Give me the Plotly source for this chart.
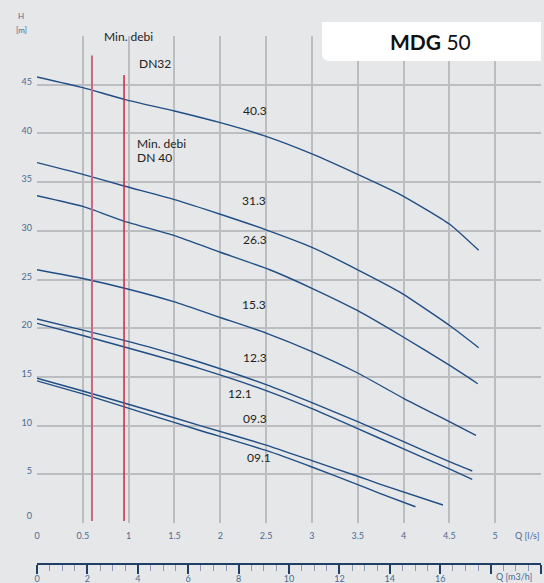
import plotly.graph_objects as go

# ---- data (Q in l/s, H in m) ----
q_403 = [0.0, 0.5, 0.95, 1.5, 2.0, 2.5, 3.0, 3.5, 3.96, 4.5, 4.82]
h_403 = [45.8, 44.7, 43.5, 42.3, 41.1, 39.7, 37.9, 35.8, 33.75, 30.7, 28.0]

q_313 = [0.0, 0.5, 0.95, 1.5, 2.0, 2.5, 3.0, 3.5, 3.96, 4.5, 4.82]
h_313 = [37.0, 35.8, 34.6, 33.2, 31.7, 30.1, 28.3, 26.0, 23.7, 20.3, 18.0]

q_263 = [0.0, 0.5, 0.95, 1.5, 2.0, 2.54, 3.0, 3.5, 3.96, 4.5, 4.81]
h_263 = [33.6, 32.5, 31.0, 29.5, 27.8, 26.0, 24.1, 21.8, 19.3, 16.2, 14.3]

q_153 = [0.0, 0.5, 1.0, 1.5, 2.0, 2.5, 3.0, 3.5, 4.0, 4.5, 4.79]
h_153 = [26.0, 25.1, 24.0, 22.7, 21.1, 19.5, 17.6, 15.4, 12.8, 10.4, 9.0]

q_123 = [0.0, 0.5, 0.95, 1.23, 1.78, 2.5, 3.0, 3.5, 4.0, 4.5, 4.75]
h_123 = [20.95, 19.8, 18.75, 18.05, 16.5, 14.2, 12.35, 10.4, 8.35, 6.3, 5.34]

q_121 = [0.0, 0.5, 1.23, 1.78, 2.5, 3.0, 3.5, 4.0, 4.5, 4.75]
h_121 = [20.5, 19.25, 17.35, 15.85, 13.6, 11.75, 9.7, 7.6, 5.55, 4.49]

q_093 = [0.0, 0.5, 1.23, 1.78, 2.5, 3.0, 3.5, 3.74, 4.43]
h_093 = [14.86, 13.55, 11.55, 10.0, 8.0, 6.4, 4.8, 4.0, 1.85]

q_091 = [0.0, 0.5, 1.23, 1.78, 2.5, 3.0, 3.5, 3.74, 4.13]
h_091 = [14.6, 13.25, 11.1, 9.5, 7.45, 5.75, 3.95, 3.05, 1.67]

curve_names = ["40.3", "31.3", "26.3", "15.3", "12.3", "12.1", "09.3", "09.1"]
curve_q = [q_403, q_313, q_263, q_153, q_123, q_121, q_093, q_091]
curve_h = [h_403, h_313, h_263, h_153, h_123, h_121, h_093, h_091]
# label positions (Q, H)
label_q = [2.38, 2.37, 2.38, 2.37, 2.38, 2.22, 2.38, 2.42]
label_h = [42.4, 33.1, 29.1, 22.4, 17.0, 13.3, 10.7, 6.7]

# minimum flow lines: (Q, top H)
minflow_q = [0.6, 0.95]
minflow_top = [48.0, 46.0]

# axis ticks
q_ls_ticks = [0.5, 1, 1.5, 2, 2.5, 3, 3.5, 4, 4.5, 5]
q_ls_text = ["0.5", "1", "1.5", "2", "2.5", "3", "3.5", "4", "4.5", "5"]
h_ticks = [5, 10, 15, 20, 25, 30, 35, 40, 45]
q_m3h_ticks = [0, 2, 4, 6, 8, 10, 12, 14, 16, 18, 20]
q_m3h_text = ["0", "2", "4", "6", "8", "10", "12", "14", "16", "", ""]

BG = "#e6e7e9"
GRID = "#bcbdc0"
CURVE = "#1f4e85"
TICKC = "#4a6a92"
NAVY = "#1f3f66"
FONT = "Lato"

W, H = 544, 583
ML, MR, MT, MB = 37, 3, 36, 20
PW = W - ML - MR
PH = H - MT - MB


def px(xp):
    return (xp - ML) / PW


def py(yp):
    return (H - MB - yp) / PH


fig = go.Figure()
for name, q, h in zip(curve_names, curve_q, curve_h):
    fig.add_trace(go.Scatter(x=q, y=h, mode="lines", name=name, xaxis="x", yaxis="y",
                             line=dict(color=CURVE, width=1.4, shape="spline", smoothing=0.5),
                             showlegend=False, hoverinfo="skip"))

# helper traces to activate the extra axes (no visible marks)
fig.add_trace(go.Scatter(x=[0, 20], y=[None, None], xaxis="x2", yaxis="y3",
                         showlegend=False, hoverinfo="skip", mode="lines"))
fig.add_trace(go.Scatter(x=[0, 5.5], y=[None, None], xaxis="x3", yaxis="y",
                         showlegend=False, hoverinfo="skip", mode="lines"))
fig.add_trace(go.Scatter(x=[None, None], y=[0, 50], xaxis="x", yaxis="y2",
                         showlegend=False, hoverinfo="skip", mode="lines"))

for name, lq, lh in zip(curve_names, label_q, label_h):
    fig.add_annotation(x=lq, y=lh, xref="x", yref="y", text=name, showarrow=False,
                       xanchor="center", yanchor="middle",
                       font=dict(family=FONT, size=12, color="#222222"))

red_cols = ["#c96a80", "#c42a40"]
red_w = [2, 1.5]
for q, top, c, w in zip(minflow_q, minflow_top, red_cols, red_w):
    fig.add_shape(type="line", xref="x", yref="y", x0=q, x1=q, y0=0.2, y1=top,
                  line=dict(color=c, width=w), layer="above")

# title box
bx0, bx1, by0, by1 = px(322), px(541), py(61), py(22)
rx, ry = 8 / PW, 8 / PH
fig.add_shape(type="path", xref="paper", yref="paper",
              path=(f"M {bx0} {by1} L {bx1} {by1} L {bx1} {by0} L {bx0 + rx} {by0} "
                    f"Q {bx0} {by0} {bx0} {by0 + ry} Z"),
              fillcolor="white", line=dict(width=0), layer="above")


def note(xp, yp, text, size, color, anchor="center"):
    fig.add_annotation(xref="paper", yref="paper", x=px(xp), y=py(yp), text=text,
                       showarrow=False, xanchor=anchor, yanchor="middle",
                       font=dict(family=FONT, size=size, color=color))


note(430, 41, "<b>MDG</b> 50", 21, "#111111")
note(128, 36, "Min. debi", 12, "#222222")
note(137, 63, "DN32", 12, "#222222", "left")
note(135, 143, "Min. debi", 12, "#222222", "left")
note(135, 157, "DN 40", 12, "#222222", "left")

# axis titles
note(21, 16, "H", 8, TICKC)
note(21, 30, "[m]", 8, TICKC)
note(527, 535, "Q [l/s]", 9, TICKC)
note(514, 576, "Q [m3/h]", 9, TICKC)

ydom = [py(523), 1.0]
tickfont = dict(family=FONT, size=9, color=TICKC)

fig.update_layout(
    width=W, height=H,
    margin=dict(l=ML, r=MR, t=MT, b=MB, autoexpand=False),
    paper_bgcolor=BG, plot_bgcolor=BG,
    showlegend=False,
    xaxis=dict(range=[0, 5.5], domain=[0, 1], tickvals=q_ls_ticks, ticktext=q_ls_text, showgrid=True,
               gridcolor=GRID, gridwidth=1.5, zeroline=False, showline=False, ticks="",
               ticklabelstandoff=6, automargin=False, tickfont=tickfont, anchor="y"),
    xaxis3=dict(range=[0, 5.5], overlaying="x", tickvals=[0], ticktext=["0"], showgrid=False,
                zeroline=False, showline=False, ticks="", side="bottom", anchor="y",
                ticklabelstandoff=6, automargin=False, tickfont=tickfont),
    yaxis=dict(range=[0, 50], domain=ydom, tickvals=h_ticks, showgrid=True, gridcolor=GRID,
               gridwidth=1.5, zeroline=False, showline=False, ticklabelshift=-3, ticks="",
               ticklabelstandoff=4, automargin=False, tickfont=tickfont, anchor="x"),
    yaxis2=dict(range=[0, 50], overlaying="y", tickvals=[0], ticktext=["0"], showgrid=False,
                zeroline=False, showline=False, side="left", ticklabelshift=-7, ticks="",
                ticklabelstandoff=4, automargin=False, tickfont=tickfont, anchor="x"),
    yaxis3=dict(range=[0, 1], domain=[0, py(561)], visible=False, anchor="x2",
                automargin=False),
    xaxis2=dict(range=[0, 20], domain=[0, 1], anchor="y3",
                tickvals=q_m3h_ticks, ticktext=q_m3h_text, showgrid=False, zeroline=False,
                showline=True, linecolor=NAVY, linewidth=1.5,
                ticks="outside", ticklen=9, tickwidth=1.5, tickcolor=NAVY,
                ticklabelstandoff=-3,
                minor=dict(dtick=0.5, ticks="outside", ticklen=6, tickwidth=1,
                           tickcolor="#8d9bb0", showgrid=False),
                automargin=False, tickfont=tickfont),
)

fig.write_html("out.html",
               config={"displayModeBar": False},
               post_script="document.body.style.margin='0';document.body.style.overflow='hidden';"
                           "document.body.style.background='" + BG + "';")
